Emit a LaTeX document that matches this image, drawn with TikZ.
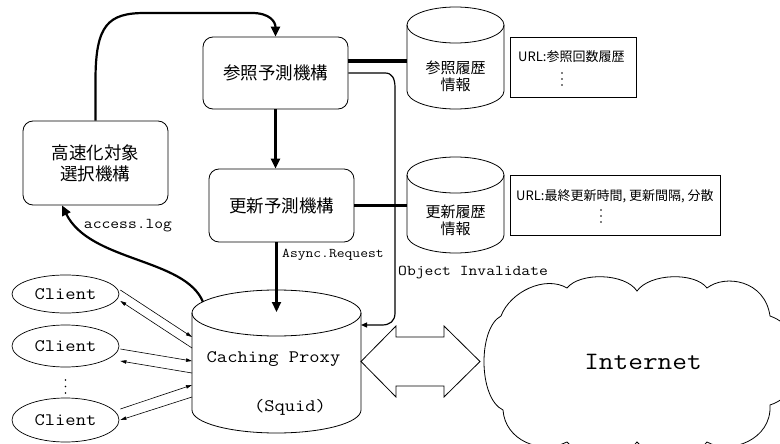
\documentclass[tikz,border=0pt]{standalone}
\usepackage{fontspec}
\setmonofont{Latin Modern Mono}[FakeStretch=1.14]
\newfontfamily\jp{Noto Sans CJK JP}
\usetikzlibrary{arrows.meta,calc,shapes.geometric}
\newcommand\drawcyl[5]{%
  \pgfmathsetmacro\cylcx{(#1+#2)/2}\pgfmathsetmacro\cylrx{(#2-#1)/2}%
  \draw[line width=0.8pt,fill=white] (#1,-#3) -- (#1,-#4) arc[start angle=180,end angle=360,x radius=\cylrx,y radius=#5] -- (#2,-#3);
  \draw[line width=0.8pt] (\cylcx,-#3) ellipse[x radius=\cylrx,y radius=#5];}
\newcommand\threedots[3]{% x, y of top dot, spacing
  \foreach \k in {0,1,2} \fill (#1,{-#2-\k*#3}) circle[radius=0.8pt];}
\tikzset{
  procbox/.style={draw, line width=0.8pt, rounded corners=10pt, minimum width=145pt, align=center, inner sep=0pt,
    font=\jp\fontsize{17.5pt}{21pt}\selectfont},
  cylarea/.style={inner sep=0pt, outer sep=0pt},
  dbtext/.style={align=center, inner sep=0pt, font=\jp\fontsize{15pt}{16.5pt}\selectfont},
  urltext/.style={inner sep=0pt, font=\jp\fontsize{13pt}{15pt}\selectfont},
  rectbox/.style={draw, line width=0.8pt, inner sep=0pt, minimum height=60pt},
  monobig/.style={inner sep=0pt, font=\ttfamily\fontsize{17.5pt}{20pt}\selectfont},
  monomid/.style={inner sep=0pt, font=\ttfamily\fontsize{15pt}{18pt}\selectfont},
  monosmall/.style={inner sep=0pt, font=\ttfamily\fontsize{13.3pt}{16pt}\selectfont},
  client/.style={draw, ellipse, line width=0.7pt, minimum width=107pt, inner sep=0pt,
    font=\ttfamily\fontsize{17.5pt}{20pt}\selectfont},
  bigarrow/.style={line width=2.2pt, -{Triangle[length=10pt,width=9pt]}},
  busline/.style={line width=3.6pt},
  invline/.style={line width=1.2pt, -{Triangle[length=6pt,width=5pt]}},
  thinarrow/.style={line width=0.6pt, -{Triangle[length=6pt,width=3.5pt]}},
  cloudline/.style={line width=0.8pt},
}
\begin{document}
\begin{tikzpicture}[x=1pt,y=1pt]
\useasboundingbox (0,0) rectangle (780,-444);

% process boxes
\node[procbox, minimum height=72pt] (sansho) at (275.5,-73) {参照予測機構};
\node[procbox, minimum height=84pt] (kousoku) at (95.5,-163) {高速化対象\\選択機構};
\node[procbox, minimum height=73pt] (koushin) at (281.5,-205.5) {更新予測機構};

% cylinders
\drawcyl{192}{361}{313}{410}{23}
\drawcyl{407}{504}{25}{91}{18}
\drawcyl{407}{504}{175}{235}{18}
\node[cylarea, minimum width=169pt, minimum height=143pt] (proxy) at (276.5,-361.5) {};
\node[cylarea, minimum width=97pt, minimum height=102pt] (db1) at (455.5,-58) {};
\node[cylarea, minimum width=97pt, minimum height=96pt] (db2) at (455.5,-205) {};
\node[dbtext] (db1t) at (455.5,-76.5) {参照履歴\\情報};
\node[dbtext] (db2t) at (455.5,-220.5) {更新履歴\\情報};
\node[monobig] (proxyt) at (273.5,-359) {Caching Proxy};
\node[monobig] (squid) at (290,-407) {(Squid)};

% record boxes
\node[rectbox, minimum width=126pt] (r1) at (573,-67) {};
\node[urltext, anchor=west] (r1t) at (518,-57) {URL:参照回数履歴};
\threedots{562}{73}{6}
\node[rectbox, minimum width=210pt] (r2) at (615,-205) {};
\node[urltext, anchor=west] (r2t) at (516,-196) {URL:最終更新時間, 更新間隔, 分散};
\threedots{601}{210}{6}

% clients
\node[client, minimum height=38pt] (c1) at (65.5,-294) {Client};
\node[client, minimum height=42pt] (c2) at (65.5,-346) {Client};
\node[client, minimum height=44pt] (c3) at (65.5,-420) {Client};
\threedots{65.5}{380}{6.5}

% cloud
\draw[cloudline] (501,-316) .. controls (510,-292) and (545,-275) .. (567,-288)
  .. controls (580,-272) and (625,-273) .. (637,-291)
  .. controls (650,-273) and (695,-272) .. (707,-288)
  .. controls (725,-274) and (765,-280) .. (770,-316)
  .. controls (810,-330) and (810,-392) .. (770,-405)
  .. controls (772,-440) and (730,-455) .. (707,-442)
  .. controls (695,-458) and (650,-458) .. (637,-442)
  .. controls (625,-458) and (580,-458) .. (567,-442)
  .. controls (540,-455) and (505,-440) .. (503,-410)
  .. controls (478,-398) and (478,-328) .. cycle;
\node[inner sep=0pt, font=\ttfamily\fontsize{25pt}{28pt}\selectfont] (inet) at (643,-362) {Internet};

% double arrow proxy <-> internet
\draw[line width=0.8pt, shift={(proxy.east)}] (0,0) -- (35,35.5) -- (35,24.5) -- (83,24.5) -- (83,35.5)
  -- (119,0) -- (83,-35.5) -- (83,-24.5) -- (35,-24.5) -- (35,-35.5) -- cycle;

% connectors
\draw[bigarrow] (kousoku.north) -- (95.5,-80) .. controls (95.5,-25) and (108,-13) .. (145,-13)
  -- (252,-13) .. controls (270,-13) and (275.5,-22) .. (sansho.north);
\draw[bigarrow] (sansho.south) -- (sansho.south |- koushin.north);
\draw[bigarrow] (koushin.south -| proxy.north) -- ($(proxy.north)+(0,-22)$);
\draw[bigarrow] ($(proxy.north west)+(11,-12)$) .. controls (185,-258) and (90,-262) .. ($(kousoku.south)+(-33.5,0)$);
\draw[busline] ($(sansho.east)+(0,12)$) -- (db1.west |- {$(sansho.east)+(0,12)$});
\draw[busline] (koushin.east) -- (db2.west |- koushin.east);
\draw[invline] (sansho.east) -- (385,-73) .. controls (392,-73) and (395,-78) .. (395,-88)
  -- (395,-313) .. controls (395,-321) and (390,-325) .. (382,-325) -- ($(proxy.north east)+(0,-35)$);

\node[monomid] (acclog) at (128,-226) {access.log};
\node[monosmall, anchor=west] (asyncl) at (282,-255) {Async.Request};
\node[monomid, anchor=west] (invl) at (398,-273) {Object Invalidate};

% client links
\draw[thinarrow] ($(c1.east)+(1,4)$) -- ($(proxy.west)+(0,24.5)$);
\draw[thinarrow] ($(proxy.west)+(0,13.5)$) -- ($(c1.east)+(1,-7)$);
\draw[thinarrow] ($(c2.east)+(1,-3)$) -- ($(proxy.west)+(0,0.5)$);
\draw[thinarrow] ($(proxy.west)+(0,-11.5)$) -- ($(c2.east)+(1,-15)$);
\draw[thinarrow] ($(c3.east)+(1,11)$) -- ($(proxy.west)+(0,-23.5)$);
\draw[thinarrow] ($(proxy.west)+(0,-35.5)$) -- ($(c3.east)+(1,0)$);
\end{tikzpicture}
\end{document}
